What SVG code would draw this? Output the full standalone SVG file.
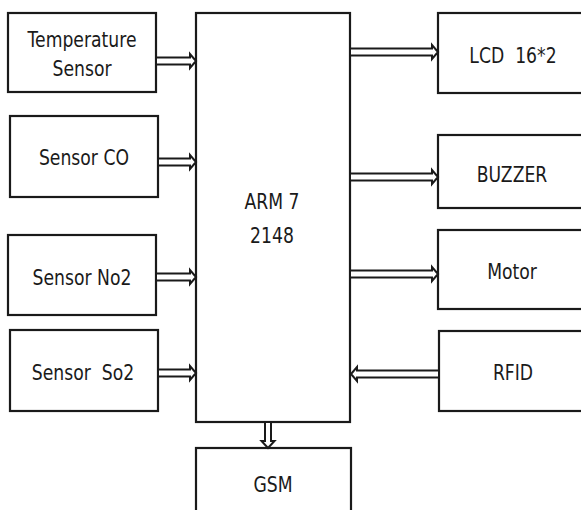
<svg xmlns="http://www.w3.org/2000/svg" width="581" height="510" viewBox="0 0 581 510">
<style>
.box{fill:#fff;stroke:#1a1a1a;stroke-width:2.2}
.arr{fill:#fff;stroke:#1a1a1a;stroke-width:2;stroke-linejoin:miter}
text{font-family:"DejaVu Sans",sans-serif;font-size:21px;fill:#1a1a1a;text-anchor:middle}
</style>
<rect width="581" height="510" fill="#fff"/>
<g id="arm"><rect class="box" x="196" y="13" width="154" height="409"/><text transform="matrix(0.82 0 0 1 0 0)" x="331.7" y="209">ARM 7</text><text transform="matrix(0.82 0 0 1 0 0)" x="331.7" y="243">2148</text></g>
<g id="temp"><rect class="box" x="8" y="13" width="148" height="79"/><text transform="matrix(0.82 0 0 1 0 0)" x="100" y="47">Temperature</text><text transform="matrix(0.82 0 0 1 0 0)" x="100" y="76">Sensor</text></g>
<g id="co"><rect class="box" x="10" y="116" width="148" height="81"/><text transform="matrix(0.82 0 0 1 0 0)" x="102.4" y="165">Sensor CO</text></g>
<g id="no2"><rect class="box" x="8" y="235" width="148" height="80"/><text transform="matrix(0.82 0 0 1 0 0)" x="100" y="285">Sensor No2</text></g>
<g id="so2"><rect class="box" x="10" y="330" width="148" height="81"/><text transform="matrix(0.82 0 0 1 0 0)" x="101.2" y="380" xml:space="preserve">Sensor  So2</text></g>
<g id="lcd"><rect class="box" x="438" y="13" width="150" height="80"/><text transform="matrix(0.82 0 0 1 0 0)" x="625.6" y="63" xml:space="preserve">LCD  16*2</text></g>
<g id="buzzer"><rect class="box" x="438" y="135" width="150" height="73"/><text transform="matrix(0.82 0 0 1 0 0)" x="624.4" y="182">BUZZER</text></g>
<g id="motor"><rect class="box" x="438" y="230" width="150" height="79"/><text transform="matrix(0.82 0 0 1 0 0)" x="624.4" y="279">Motor</text></g>
<g id="rfid"><rect class="box" x="439" y="331" width="150" height="80"/><text transform="matrix(0.82 0 0 1 0 0)" x="625.6" y="380">RFID</text></g>
<g id="gsm"><rect class="box" x="196" y="448" width="155" height="70"/><text transform="matrix(0.82 0 0 1 0 0)" x="332.9" y="492">GSM</text></g>
<g id="connectors">
<path class="arr" d="M156 57.5H190V54L196 61L190 68V64.5H156Z"/>
<path class="arr" d="M158 158.5H190V155L196 162L190 169V165.5H158Z"/>
<path class="arr" d="M156 273.5H190V270L196 277L190 284V280.5H156Z"/>
<path class="arr" d="M158 369.5H190V366L196 373L190 380V376.5H158Z"/>
<path class="arr" d="M350 48.5H432V45L438 52L432 59V55.5H350Z"/>
<path class="arr" d="M350 173.5H432V170L438 177L432 184V180.5H350Z"/>
<path class="arr" d="M350 270.5H432V267L438 274L432 281V277.5H350Z"/>
<path class="arr" d="M439 370.5H357V367L351 374L357 381V377.5H439Z"/>
<path class="arr" d="M265 422V441H261.5L268 448L274.5 441H271V422Z"/>
</g>
</svg>
